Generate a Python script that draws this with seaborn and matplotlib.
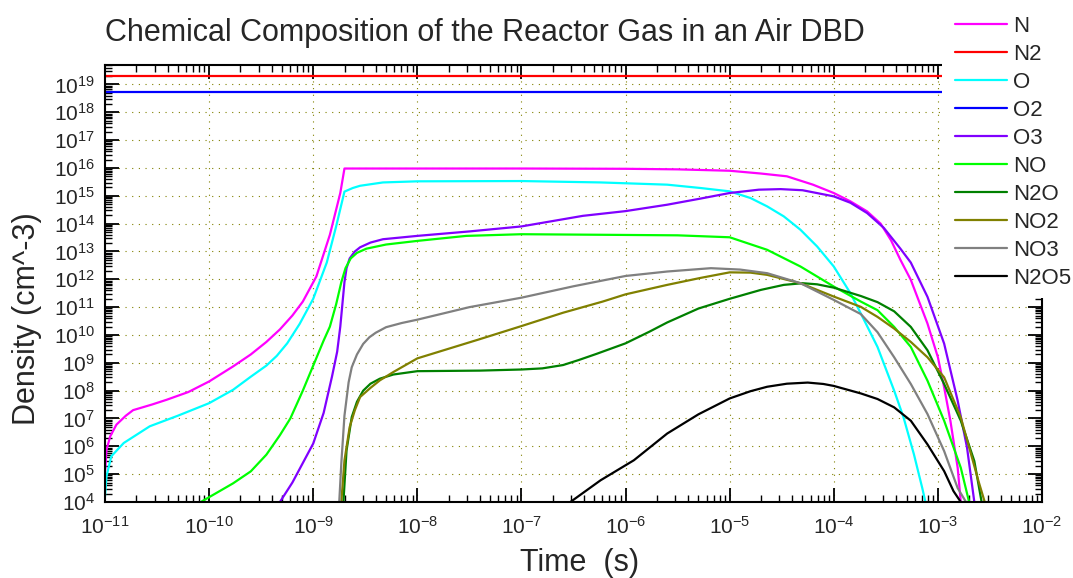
import numpy as np
import pandas as pd
import matplotlib
matplotlib.use("Agg")
import matplotlib.pyplot as plt
import seaborn as sns
from matplotlib.lines import Line2D
from matplotlib.patches import Rectangle
from matplotlib.ticker import LogLocator, NullFormatter, LogFormatterMathtext

sns.set_style("ticks")
plt.rcParams['font.family'] = ['Liberation Sans', 'DejaVu Sans']
plt.rcParams['mathtext.default'] = 'regular'

# values, as log10(time / s) and log10(density / cm^-3)
N_lt = [-11.0, -10.985, -10.95, -10.89, -10.8, -10.73, -10.55, -10.41, -10.2, -10.0, -9.77, -9.6,
        -9.45, -9.32, -9.2, -9.1, -8.97, -8.84, -8.74, -8.70, -8.0, -7.0, -6.0, -5.5, -5.0, -4.7,
        -4.45, -4.2, -4.0, -3.84, -3.68, -3.55, -3.45, -3.36, -3.26, -3.10, -3.0, -2.94, -2.88,
        -2.81, -2.78]
N_ln = [5.05, 5.88, 6.36, 6.78, 7.1, 7.3, 7.5, 7.67, 7.95, 8.33, 8.87, 9.3,
        9.75, 10.2, 10.7, 11.2, 12.1, 13.6, 15.1, 15.98, 15.98, 15.98, 15.97, 15.95, 15.9, 15.8,
        15.7, 15.4, 15.1, 14.8, 14.44, 14.0, 13.4, 12.7, 11.98, 10.41, 9.2, 8.12, 6.92,
        5.23, 4.0]

N2_lt = [-11.0, -2.5]
N2_ln = [19.29, 19.29]

O_lt = [-11.0, -10.985, -10.94, -10.82, -10.57, -10.3, -10.0, -9.77, -9.6, -9.45, -9.35, -9.25,
        -9.13, -9.0, -8.87, -8.78, -8.70, -8.62, -8.55, -8.33, -8.0, -7.0, -6.24, -5.6, -5.28,
        -5.0, -4.8, -4.64, -4.48, -4.32, -4.16, -4.0, -3.84, -3.74, -3.58, -3.42, -3.33, -3.23,
        -3.15, -3.12]
O_ln = [4.2, 4.93, 5.64, 6.12, 6.72, 7.1, 7.55, 8.03, 8.5, 8.9, 9.25, 9.7,
        10.4, 11.3, 12.6, 13.9, 15.15, 15.28, 15.36, 15.48, 15.52, 15.53, 15.48, 15.4, 15.28,
        15.16, 14.92, 14.62, 14.26, 13.78, 13.18, 12.46, 11.5, 10.77, 9.57, 8.0, 7.04, 5.71,
        4.5, 4.0]

O2_lt = [-11.0, -2.5]
O2_ln = [18.72, 18.72]

O3_lt = [-9.32, -9.2, -9.1, -9.0, -8.9, -8.82, -8.77, -8.74, -8.72, -8.70, -8.68, -8.65, -8.6,
         -8.55, -8.45, -8.33, -8.0, -7.5, -7.0, -6.41, -6.0, -5.6, -5.28, -5.0, -4.72, -4.51,
         -4.3, -4.0, -3.84, -3.68, -3.52, -3.36, -3.26, -3.10, -2.94, -2.81, -2.72, -2.65]
O3_ln = [4.0, 4.7, 5.4, 6.1, 7.2, 8.5, 9.4, 10.3, 11.1, 11.9, 12.4, 12.75, 13.0,
         13.15, 13.32, 13.44, 13.56, 13.72, 13.9, 14.28, 14.45, 14.68, 14.9, 15.1, 15.22, 15.24,
         15.2, 14.98, 14.75, 14.38, 13.85, 13.1, 12.6, 11.37, 9.69, 7.64, 5.95, 4.0]

NO_lt = [-10.08, -9.77, -9.6, -9.45, -9.32, -9.22, -9.1, -9.0, -8.9, -8.84, -8.78, -8.73, -8.69,
         -8.64, -8.58, -8.49, -8.3, -8.0, -7.53, -7.0, -6.24, -5.5, -5.0, -4.64, -4.32, -4.0,
         -3.74, -3.58, -3.42, -3.26, -3.10, -2.94, -2.78, -2.70]
NO_ln = [4.0, 4.67, 5.1, 5.7, 6.4, 7.0, 8.0, 8.9, 9.8, 10.3, 11.1, 11.9, 12.4,
         12.75, 12.95, 13.1, 13.25, 13.38, 13.56, 13.62, 13.6, 13.58, 13.51, 13.06, 12.46, 11.74,
         11.2, 10.89, 10.29, 9.57, 8.36, 6.92, 5.23, 4.0]

N2O_lt = [-8.71, -8.68, -8.63, -8.58, -8.52, -8.45, -8.36, -8.23, -8.0, -7.4, -7.0, -6.8, -6.6,
          -6.45, -6.28, -6.0, -5.77, -5.6, -5.3, -5.0, -4.7, -4.48, -4.3, -4.16, -4.0, -3.74,
          -3.58, -3.42, -3.26, -3.10, -2.94, -2.78, -2.65, -2.58]
N2O_ln = [4.0, 5.85, 7.05, 7.6, 8.0, 8.25, 8.43, 8.58, 8.7, 8.72, 8.76, 8.8, 8.92,
          9.1, 9.32, 9.7, 10.12, 10.45, 10.95, 11.3, 11.62, 11.8, 11.86, 11.82, 11.7, 11.4,
          11.18, 10.85, 10.29, 9.45, 8.24, 6.92, 5.47, 4.0]

NO2_lt = [-8.73, -8.70, -8.65, -8.60, -8.55, -8.45, -8.36, -8.23, -8.0, -7.4, -7.0, -6.6, -6.22,
          -6.0, -5.6, -5.28, -5.0, -4.8, -4.64, -4.32, -4.0, -3.74, -3.58, -3.42, -3.26, -3.10,
          -2.94, -2.78, -2.69, -2.61, -2.55]
NO2_ln = [4.0, 5.49, 6.69, 7.3, 7.77, 8.1, 8.37, 8.67, 9.16, 9.85, 10.32, 10.8, 11.2,
          11.46, 11.8, 12.05, 12.25, 12.24, 12.16, 11.86, 11.38, 11.01, 10.65, 10.23, 9.75, 9.2,
          8.48, 7.04, 5.83, 4.75, 4.0]

NO3_lt = [-8.75, -8.73, -8.70, -8.66, -8.63, -8.58, -8.52, -8.46, -8.4, -8.3, -8.15, -8.0, -7.5,
          -7.0, -6.5, -6.0, -5.6, -5.18, -4.9, -4.64, -4.32, -4.0, -3.74, -3.58, -3.42, -3.26,
          -3.10, -2.94, -2.81, -2.73]
NO3_ln = [4.0, 5.4, 7.1, 8.3, 8.84, 9.3, 9.68, 9.92, 10.08, 10.28, 10.43, 10.55, 11.0,
          11.34, 11.75, 12.12, 12.28, 12.4, 12.35, 12.22, 11.86, 11.26, 10.75, 10.1, 9.2, 8.24,
          7.16, 5.83, 4.5, 4.0]

N2O5_lt = [-6.53, -6.24, -5.92, -5.6, -5.3, -5.0, -4.8, -4.64, -4.45, -4.25, -4.1, -4.0, -3.74,
           -3.58, -3.42, -3.26, -3.10, -2.94, -2.85, -2.78]
N2O5_ln = [4.0, 4.78, 5.5, 6.46, 7.15, 7.72, 7.98, 8.14, 8.25, 8.29, 8.24, 8.17, 7.9,
           7.7, 7.4, 6.92, 6.07, 5.11, 4.39, 4.0]

species = ["N", "N2", "O", "O2", "O3", "NO", "N2O", "NO2", "NO3", "N2O5"]
colors = ["#ff00ff", "#ff0000", "#00ffff", "#0000ff", "#8000ff",
          "#00ff00", "#008000", "#808000", "#808080", "#000000"]
series = {"N": (N_lt, N_ln), "N2": (N2_lt, N2_ln), "O": (O_lt, O_ln), "O2": (O2_lt, O2_ln),
          "O3": (O3_lt, O3_ln), "NO": (NO_lt, NO_ln), "N2O": (N2O_lt, N2O_ln),
          "NO2": (NO2_lt, NO2_ln), "NO3": (NO3_lt, NO3_ln), "N2O5": (N2O5_lt, N2O5_ln)}

# decade ticks shown on the axes
x_decades = list(range(-11, -1))
y_decades = list(range(4, 20))

#Long form table for seaborn
frames = []
for name in species:
    lt, ln = series[name]
    frames.append(pd.DataFrame({"time": 10.0 ** np.array(lt),
                                "density": 10.0 ** np.array(ln),
                                "species": name}))
df = pd.concat(frames, ignore_index=True)
palette = dict(zip(species, colors))

fig = plt.figure(figsize=(10.73, 5.78), dpi=100)
ax = fig.add_axes([105 / 1073, 76 / 578, 937 / 1073, 437 / 578])

sns.lineplot(data=df, x="time", y="density", hue="species", hue_order=species,
             palette=palette, estimator=None, sort=True, lw=1.6, legend=False, ax=ax)

ax.set_xscale("log")
ax.set_yscale("log")
ax.set_xticks([10.0 ** d for d in x_decades])
ax.set_yticks([10.0 ** d for d in y_decades])
ax.set_xlim(1e-11, 1e-2)
ax.set_ylim(1e4, 5e19)

for axis in (ax.xaxis, ax.yaxis):
    axis.set_minor_locator(LogLocator(base=10, subs=np.arange(2, 10), numticks=400))
    axis.set_major_formatter(LogFormatterMathtext())
    axis.set_minor_formatter(NullFormatter())

ax.tick_params(which="both", direction="in", top=True, right=True, color="black")
ax.tick_params(which="major", length=10, width=1.3, labelsize=15)
ax.tick_params(axis="x", which="major", pad=10)
ax.tick_params(axis="y", which="major", pad=7)
ax.tick_params(which="minor", length=5, width=1.0)
for sp in ax.spines.values():
    sp.set_linewidth(1.5)
    sp.set_color("black")

ax.grid(which="major", color="#808000", linestyle=(0, (1, 5)), linewidth=0.8)

ax.set_xlabel("Time  (s)", fontsize=22)
ax.set_ylabel("Density (cm^-3)", fontsize=22)
ax.xaxis.set_label_coords(0.507, -0.14)
ax.xaxis.label.set_verticalalignment("center")
ax.yaxis.set_label_coords(-0.083, 0.419)
ax.yaxis.label.set_verticalalignment("center")

fig.text(105 / 1073, 1 - 41 / 578, "Chemical Composition of the Reactor Gas in an Air DBD",
         fontsize=22, ha="left", va="baseline")

# white block behind the legend (it hides the top right of the frame)
fig.add_artist(Rectangle((942 / 1073, 1 - 298 / 578), 1 - 942 / 1073, 298 / 578,
                         transform=fig.transFigure, facecolor="white", edgecolor="none",
                         zorder=1))
handles = [Line2D([], [], color=c, lw=1.6) for c in colors]
fig.legend(handles, species, loc="upper left", bbox_to_anchor=(955 / 1073, 1 - 16 / 578),
           frameon=False, fontsize=16, handlelength=2.34, handletextpad=0.27,
           labelspacing=0.315, borderpad=0, borderaxespad=0)

fig.savefig("out.png", dpi=100)
